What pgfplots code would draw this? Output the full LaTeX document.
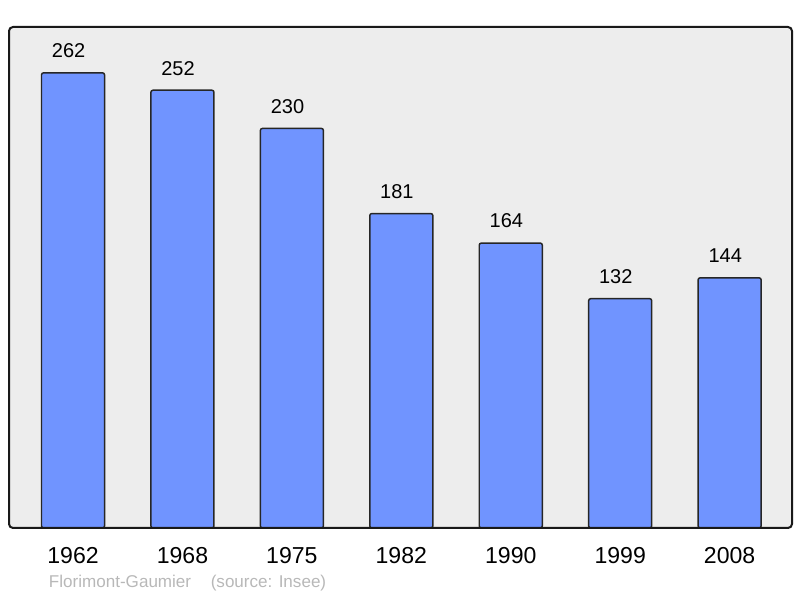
\documentclass[border=0pt]{standalone}
\usepackage{pgfplots}
\pgfplotsset{compat=1.18}
\usepackage{fontspec}
\setmainfont{Liberation Sans}
\definecolor{barblue}{HTML}{7094FF}
\definecolor{bggray}{HTML}{EDEDED}
\definecolor{srcgray}{HTML}{B8B8B8}
\begin{document}
\begin{tikzpicture}
\path[use as bounding box] (0,0) rectangle (600pt,448.5pt);
\begin{axis}[
  at={(6.75pt,52.5pt)}, anchor=south west,
  scale only axis, width=587.25pt, height=375.75pt,
  xmin=-0.585, xmax=6.57, ymin=0, ymax=288.4,
  axis line style={draw=none},
  axis background/.style={fill=bggray},
  ytick=\empty,
  xtick={0,1,2,3,4,5,6},
  xticklabels={1962,1968,1975,1982,1990,1999,2008},
  major tick length=0pt,
  xticklabel style={anchor=center, yshift=-21pt, font=\fontsize{17.3pt}{19pt}\selectfont},
  /pgf/number format/assume math mode=true,
  nodes near coords,
  every node near coord/.style={anchor=center, yshift=16.5pt, xshift=-3.3pt, font=\fontsize{15pt}{17pt}\selectfont, text=black},
  clip=false,
]
\addplot[ybar, bar width=0.576, fill=barblue, draw=black!85, line width=1.1pt, rounded corners=1.5pt]
  coordinates {(0,262) (1,252) (2,230) (3,181) (4,164) (5,132) (6,144)};
\draw[line width=1.5pt, rounded corners=3pt, black!90] (rel axis cs:0,0) rectangle (rel axis cs:1,1);
\end{axis}
\node[anchor=west, text=srcgray, font=\fontsize{12.8pt}{14pt}\selectfont, inner sep=0pt] at (36.5pt,11.25pt) {Florimont-Gaumier\hspace{1.15em}(source: Insee)};
\end{tikzpicture}
\end{document}
